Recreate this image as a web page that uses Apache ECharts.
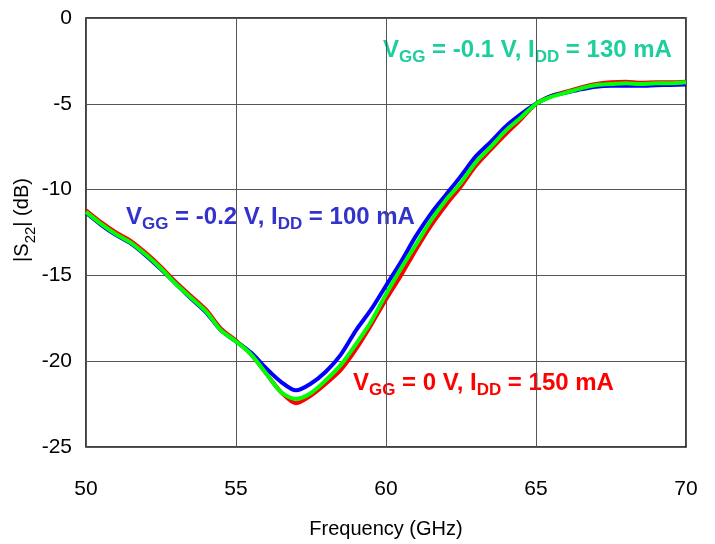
<!DOCTYPE html>
<html>
<head>
<meta charset="utf-8">
<script src="https://cdn.jsdelivr.net/npm/echarts@6/dist/echarts.min.js"></script>
<style>
  html, body { margin: 0; padding: 0; background: #fff; }
  #chart { width: 715px; height: 544px; }
</style>
</head>
<body>
<div id="chart"></div>
<script>
  // frequency points (GHz)
  const freq = [50, 50.5, 51, 51.5, 52, 52.5, 53, 53.5, 54, 54.5, 55, 55.5, 56, 56.5, 57, 57.5, 58, 58.5, 59, 59.5,
    60, 60.5, 61, 61.5, 62, 62.5, 63, 63.5, 64, 64.5, 65, 65.5, 66, 66.5, 67, 67.5, 68, 68.5, 69, 69.5, 70];

  // |S22| in dB for each bias
  const s22Red = [-11.2, -11.9, -12.5, -13.0, -13.7, -14.5, -15.4, -16.2, -17.0, -18.1, -18.8, -19.6, -20.7, -21.8, -22.45, -22.0,
    -21.3, -20.5, -19.3, -17.9, -16.4, -15.0, -13.5, -12.1, -10.9, -9.8, -8.6, -7.65, -6.75, -5.9, -5.0,
    -4.55, -4.3, -4.05, -3.85, -3.75, -3.72, -3.78, -3.75, -3.75, -3.72];
  const s22Blue = [-11.35, -12.05, -12.65, -13.15, -13.85, -14.65, -15.5, -16.35, -17.15, -18.2, -18.85, -19.5, -20.4, -21.2, -21.7, -21.3,
    -20.6, -19.6, -18.2, -17.0, -15.6, -14.2, -12.7, -11.4, -10.3, -9.2, -8.05, -7.2, -6.3, -5.6, -5.0,
    -4.55, -4.35, -4.15, -4.0, -3.95, -3.95, -3.95, -3.92, -3.9, -3.88];
  const s22Green = [-11.3, -12.0, -12.6, -13.1, -13.8, -14.6, -15.5, -16.3, -17.1, -18.2, -18.85, -19.6, -20.7, -21.8, -22.2, -21.85,
    -21.1, -20.2, -19.0, -17.7, -16.1, -14.6, -13.2, -11.8, -10.6, -9.6, -8.4, -7.5, -6.55, -5.8, -5.0,
    -4.6, -4.35, -4.1, -3.9, -3.85, -3.8, -3.85, -3.8, -3.8, -3.75];

  const xTicks = [50, 55, 60, 65, 70];
  const yTicks = [0, -5, -10, -15, -20, -25];

  const pairs = (ys) => freq.map((f, i) => [f, ys[i]]);

  const labelFont = "'Liberation Sans', Arial, sans-serif";

  // rich styles for "V_GG = ..., I_DD = ..." labels (subscripts dropped a bit)
  function biasRich(color) {
    return {
      m: { fontFamily: labelFont, fontWeight: 'bold', fontSize: 24, fill: color, lineHeight: 26, verticalAlign: 'top' },
      s: { fontFamily: labelFont, fontWeight: 'bold', fontSize: 17, fill: color, lineHeight: 28, verticalAlign: 'bottom' }
    };
  }

  const chart = echarts.init(document.getElementById('chart'));
  chart.setOption({
    animation: false,
    backgroundColor: '#fff',
    grid: { left: 86, right: 29, top: 18, bottom: 96, show: true, borderColor: '#000', borderWidth: 1.5 },
    xAxis: {
      type: 'value', min: 50, max: 70, interval: 5,
      name: 'Frequency (GHz)', nameLocation: 'middle', nameGap: 72,
      nameTextStyle: { fontFamily: labelFont, fontSize: 20, color: '#000' },
      axisLine: { show: false },
      axisTick: { show: false },
      axisLabel: { fontFamily: labelFont, fontSize: 21, color: '#000', margin: 32,
        formatter: (v) => xTicks.includes(v) ? String(v) : '' },
      splitLine: { lineStyle: { color: '#555', width: 1 } }
    },
    yAxis: {
      type: 'value', min: -25, max: 0, interval: 5,
      axisLine: { show: false },
      axisTick: { show: false },
      axisLabel: { fontFamily: labelFont, fontSize: 21, color: '#000', margin: 14,
        formatter: (v) => yTicks.includes(v) ? String(v) : '' },
      splitLine: { lineStyle: { color: '#555', width: 1 } }
    },
    series: [
      { name: 'VGG = 0 V', type: 'line', data: pairs(s22Red), smooth: 0.3, showSymbol: false,
        lineStyle: { color: '#ff0000', width: 4 } },
      { name: 'VGG = -0.2 V', type: 'line', data: pairs(s22Blue), smooth: 0.3, showSymbol: false,
        lineStyle: { color: '#0000ff', width: 4 } },
      { name: 'VGG = -0.1 V', type: 'line', data: pairs(s22Green), smooth: 0.3, showSymbol: false,
        lineStyle: { color: '#00ff00', width: 4 } }
    ],
    graphic: [
      { type: 'text', x: 25, y: 220, rotation: Math.PI / 2,
        style: { text: '{m||S}{s|22}{m|| (dB)}', align: 'center', verticalAlign: 'middle',
          rich: {
            m: { fontFamily: labelFont, fontSize: 20, fill: '#000', lineHeight: 24, verticalAlign: 'top' },
            s: { fontFamily: labelFont, fontSize: 15, fill: '#000', lineHeight: 26, verticalAlign: 'bottom' }
          } } },
      { type: 'text', left: 126, top: 205, style: { text: '{m|V}{s|GG}{m| = -0.2 V, I}{s|DD}{m| = 100 mA}', rich: biasRich('#3333cc') } },
      { type: 'text', left: 383, top: 38, style: { text: '{m|V}{s|GG}{m| = -0.1 V, I}{s|DD}{m| = 130 mA}', rich: biasRich('#1ccf9c') } },
      { type: 'text', left: 353, top: 371, style: { text: '{m|V}{s|GG}{m| = 0 V, I}{s|DD}{m| = 150 mA}', rich: biasRich('#ff0000') } }
    ]
  });
</script>
</body>
</html>
